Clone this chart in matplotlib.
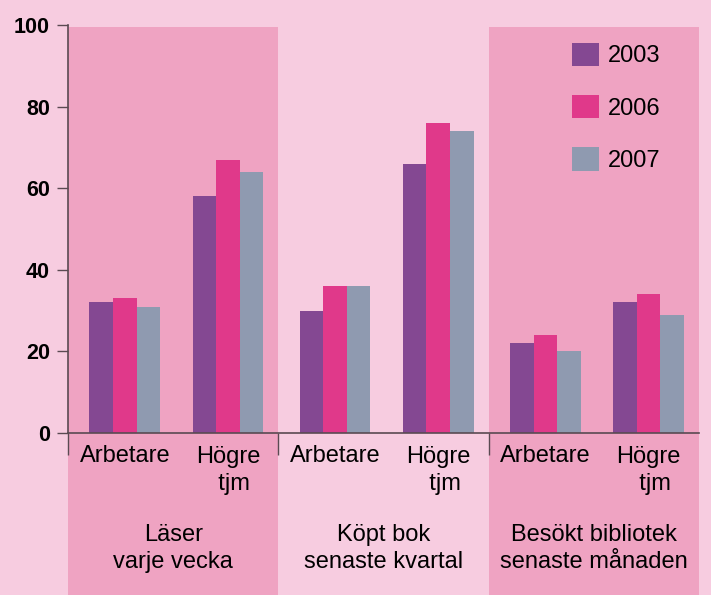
import numpy as np
import matplotlib
matplotlib.use("Agg")
import matplotlib.pyplot as plt
from matplotlib.patches import Rectangle, Patch
import matplotlib.transforms as mtransforms

plt.rcParams['font.family'] = ['Liberation Sans', 'DejaVu Sans']

# data
groups = ["Läser\nvarje vecka", "Köpt bok\nsenaste kvartal", "Besökt bibliotek\nsenaste månaden"]
subgroups = ["Arbetare", "Högre\n  tjm"]
years = ["2003", "2006", "2007"]
v2003 = [32, 58, 30, 66, 22, 32]
v2006 = [33, 67, 36, 76, 24, 34]
v2007 = [31, 64, 36, 74, 20, 29]

bg = "#f7cce0"
shade = "#efa3c2"
colors = ["#844892", "#e0398a", "#8f9ab0"]
axcol = "#5a4a52"

fig = plt.figure(figsize=(7.11, 5.95), dpi=100, facecolor=bg)
ax = fig.add_axes([68 / 711, (595 - 433) / 595, 631 / 711, 408 / 595])
ax.set_facecolor("none")

# shaded group panels (first and last) reaching below the axis
trans = mtransforms.blended_transform_factory(ax.transData, ax.transAxes)
for g in [0, 2]:
    ax.add_patch(Rectangle((g, -0.42), 1, 0.995 + 0.42, transform=trans,
                           facecolor=shade, edgecolor="none", clip_on=False, zorder=0))

offsets = [0.27, 0.76]
pos = np.array([g + o for g in range(3) for o in offsets])
w = 0.112
for i, (vals, c) in enumerate(zip([v2003, v2006, v2007], colors)):
    ax.bar(pos + (i - 1) * w, vals, width=w, color=c, zorder=2, label=years[i])

ax.set_xlim(0, 3)
ax.set_ylim(0, 100)
ax.set_yticks(range(0, 101, 20))
ax.tick_params(axis="y", length=8, width=1, color=axcol, pad=5, labelsize=15.5)
for t in ax.get_yticklabels():
    t.set_fontweight("bold")

ax.set_xticks(pos)
ax.set_xticklabels(subgroups * 3, fontsize=17, linespacing=1.35)
ax.tick_params(axis="x", length=0, pad=9)
ax.set_xticks([0, 1, 2], minor=True)
ax.tick_params(axis="x", which="minor", length=16, width=1, color=axcol)

for s in ["top", "right"]:
    ax.spines[s].set_visible(False)
for s in ["left", "bottom"]:
    ax.spines[s].set_color(axcol)
    ax.spines[s].set_linewidth(1.2)

for g, name in enumerate(groups):
    ax.text(g + 0.5, -0.222, name, transform=trans, ha="center", va="top",
            fontsize=17, linespacing=1.32)

handles = [Patch(facecolor=c) for c in colors]
ax.legend(handles, years, loc="upper left", bbox_to_anchor=(0.784, 0.98),
          frameon=False, fontsize=17, handlelength=1.15, handleheight=1.15,
          handletextpad=0.35, labelspacing=1.17, borderaxespad=0)

fig.savefig("out.png", dpi=100, facecolor=bg)
